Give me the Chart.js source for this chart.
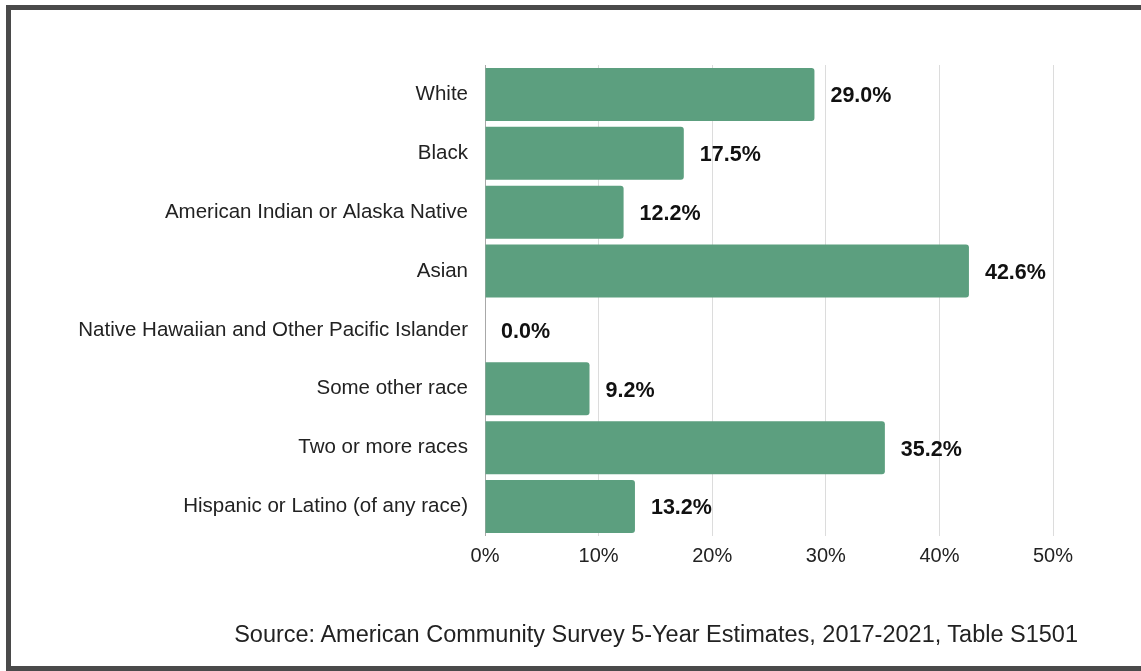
<!DOCTYPE html>
<html>
<head>
<meta charset="utf-8">
<script src="https://cdn.jsdelivr.net/npm/chart.js@4.4.0/dist/chart.umd.min.js"></script>
<style>
  html, body { margin: 0; padding: 0; background: #fff; }
  body { width: 1141px; height: 671px; position: relative; overflow: hidden; font-family: "Liberation Sans", Arial, sans-serif; }
  #frame { position: absolute; left: 6px; top: 5px; width: 1200px; height: 656px; border-left: 5px solid #4a4a4a; border-top: 5px solid #4a4a4a; border-bottom: 5px solid #4a4a4a; box-sizing: content-box; }
  #wrap { position: absolute; left: 0; top: 0; width: 1141px; height: 671px; }
  #source { position: absolute; right: 63px; top: 620px; font-size: 23.5px; line-height: 28px; color: #222; white-space: nowrap; }
</style>
</head>
<body>
<div id="frame"></div>
<div id="wrap"><canvas id="c" width="1141" height="671"></canvas></div>
<div id="source">Source: American Community Survey 5-Year Estimates, 2017-2021, Table S1501</div>
<script>
const categories = [
  "White",
  "Black",
  "American Indian or Alaska Native",
  "Asian",
  "Native Hawaiian and Other Pacific Islander",
  "Some other race",
  "Two or more races",
  "Hispanic or Latino (of any race)"
];
const values = [29.0, 17.5, 12.2, 42.6, 0.0, 9.2, 35.2, 13.2];
const xTicks = [0, 10, 20, 30, 40, 50];

const labelPlugin = {
  id: 'barLabels',
  afterDatasetsDraw(chart) {
    const ctx = chart.ctx;
    const meta = chart.getDatasetMeta(0);
    ctx.save();
    ctx.font = 'bold 21.5px "Liberation Sans", Arial, sans-serif';
    ctx.fillStyle = '#111';
    ctx.textAlign = 'left';
    ctx.textBaseline = 'middle';
    meta.data.forEach((bar, i) => {
      ctx.fillText(values[i].toFixed(1) + '%', bar.x + 16, bar.y + 2);
    });
    ctx.restore();
  }
};

new Chart(document.getElementById('c'), {
  type: 'bar',
  data: {
    labels: categories,
    datasets: [{
      data: values,
      backgroundColor: '#5c9f7f',
      borderRadius: { topLeft: 0, bottomLeft: 0, topRight: 3, bottomRight: 3 },
      borderSkipped: 'start',
      barPercentage: 0.9,
      categoryPercentage: 1.0
    }]
  },
  options: {
    indexAxis: 'y',
    responsive: false,
    animation: false,
    devicePixelRatio: 1,
    layout: { padding: { top: 65, right: 88, left: 0, bottom: 0 } },
    plugins: { legend: { display: false }, tooltip: { enabled: false } },
    scales: {
      x: {
        min: 0, max: 50,
        afterBuildTicks(scale) { scale.ticks = xTicks.map(v => ({ value: v })); },
        afterFit(scale) { scale.height = 135; },
        grid: {
          color: ctx => ctx.tick && ctx.tick.value === 0 ? '#a8a8a8' : '#dcdcdc',
          lineWidth: 1,
          drawTicks: false
        },
        border: { display: false },
        ticks: {
          padding: 8,
          color: '#222',
          font: { size: 20, family: '"Liberation Sans", Arial, sans-serif' },
          callback: v => v + '%'
        }
      },
      y: {
        afterFit(scale) { scale.width = 485; },
        grid: { display: false, drawTicks: false },
        border: { display: false },
        ticks: {
          padding: 17,
          color: '#222',
          font: { size: 20.5, family: '"Liberation Sans", Arial, sans-serif' }
        }
      }
    }
  },
  plugins: [labelPlugin]
});
</script>
</body>
</html>
